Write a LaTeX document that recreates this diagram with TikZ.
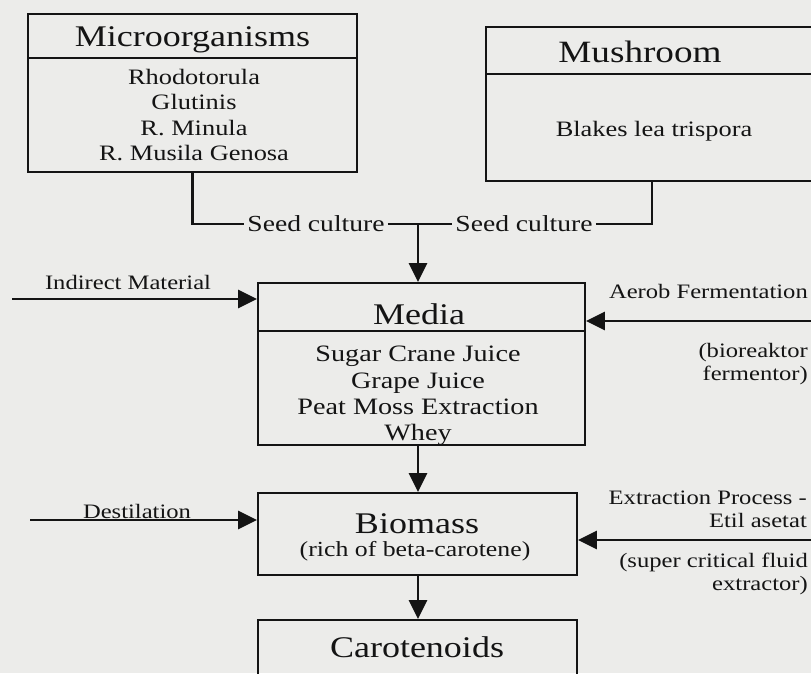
\documentclass[tikz,border=0pt]{standalone}
\usepackage{fontspec}
\setmainfont[FakeStretch=1.2]{Liberation Serif}
\usetikzlibrary{arrows.meta}
\definecolor{paper}{RGB}{236,236,234}
\definecolor{ink}{RGB}{20,20,20}
\tikzset{
  boxstyle/.style={draw=ink, line width=1.8pt, rectangle, inner sep=0pt},
  divider/.style={draw=ink, line width=1.8pt},
  head/.style={text=ink, font=\fontsize{30}{36}\selectfont, inner sep=0pt},
  bodytext/.style={text=ink, font=\fontsize{23}{25.5}\selectfont, align=center, inner sep=0pt},
  labeltext/.style={text=ink, font=\fontsize{20.5}{23}\selectfont, inner sep=0pt},
  seedtext/.style={text=ink, font=\fontsize{23}{26}\selectfont, inner sep=3pt},
  conn/.style={draw=ink, line width=2.8pt},
  arr/.style={conn, -{Triangle[length=19pt,width=18pt]}}
}
\begin{document}
\begin{tikzpicture}[x=1pt,y=-1pt]
\useasboundingbox (0,0) rectangle (811,673);
\clip (0,0) rectangle (811,673);
\fill[paper] (0,0) rectangle (811,673);

% Microorganisms
\node[boxstyle, minimum width=329pt, minimum height=158pt] (micro) at (192.5,93) {};
\draw[divider] (28,58) -- (357,58);
\node[head] (microhead) at (192.5,40) {Microorganisms};
\node[bodytext, font=\fontsize{22}{25.3}\selectfont] (microbody) at (194,115) {Rhodotorula\\Glutinis\\R. Minula\\R. Musila Genosa};

% Mushroom
\node[boxstyle, minimum width=326pt, minimum height=154pt] (mush) at (649,104) {};
\draw[divider] (486,74) -- (812,74);
\node[head, font=\fontsize{31}{36}\selectfont] (mushhead) at (640,52) {Mushroom};
\node[bodytext, font=\fontsize{22}{26}\selectfont] (mushbody) at (654,131) {Blakes lea trispora};

% Seed culture connectors
\node[seedtext] (seedA) at (316,224) {Seed culture};
\node[seedtext] (seedB) at (524,224) {Seed culture};
\coordinate (junc) at (418,226);
\draw[conn] (micro.south) |- (seedA.west);
\draw[conn] (seedA.east) -- (seedB.west);
\draw[conn] (seedB.east) -| (652,181);

% Media
\node[boxstyle, minimum width=327pt, minimum height=162pt] (media) at (421.5,364) {};
\draw[divider] (258,331) -- (585,331);
\node[head] (mediahead) at (419,314) {Media};
\node[bodytext, font=\fontsize{23.5}{26.3}\selectfont] (mediabody) at (418,396) {Sugar Crane Juice\\Grape Juice\\Peat Moss Extraction\\Whey};
\draw[conn] (junc |- seedA.east) -- (junc);
\draw[arr] (junc) -- (junc |- media.north);

% Indirect material
\coordinate (imstart) at (12,299);
\node[labeltext] (imlab) at (128,282) {Indirect Material};
\draw[arr] (imstart) -- (imstart -| media.west);

% Aerob fermentation
\coordinate (afstart) at (815,321);
\node[labeltext, anchor=east] (aflab) at (808,291) {Aerob Fermentation};
\node[labeltext, anchor=east, align=right] (aflab2) at (808,364) {(bioreaktor\\fermentor)};
\draw[arr] (afstart) -- (afstart -| media.east);

% Biomass
\node[boxstyle, minimum width=319pt, minimum height=82pt] (bio) at (417.5,534) {};
\node[head] (biohead) at (417,524) {Biomass};
\node[bodytext, font=\fontsize{21.5}{25}\selectfont] (biosub) at (415,551) {(rich of beta-carotene)};
\draw[arr] (junc |- media.south) -- (junc |- bio.north);

% Destilation
\coordinate (dstart) at (30,520);
\node[labeltext] (dlab) at (137,511) {Destilation};
\draw[arr] (dstart) -- (dstart -| bio.west);

% Extraction process
\coordinate (exstart) at (815,540);
\node[labeltext, anchor=east, align=right] (exlab) at (807,509) {Extraction Process -\\Etil asetat};
\node[labeltext, anchor=east, align=right] (exlab2) at (808,574) {(super critical fluid\\extractor)};
\draw[arr] (exstart) -- (exstart -| bio.east);

% Carotenoids
\node[boxstyle, minimum width=319pt, minimum height=80pt] (caro) at (417.5,660) {};
\node[head] (carohead) at (417,647) {Carotenoids};
\draw[arr] (junc |- bio.south) -- (junc |- caro.north);
\end{tikzpicture}
\end{document}
